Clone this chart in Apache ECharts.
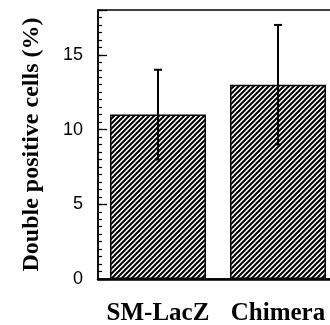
<!DOCTYPE html>
<html>
<head>
<meta charset="utf-8">
<script src="https://cdn.jsdelivr.net/npm/echarts@6/dist/echarts.min.js"></script>
<style>
  html, body { margin: 0; padding: 0; background: #fff; }
  #chart { width: 330px; height: 325px; }
</style>
</head>
<body>
<div id="chart"></div>
<script>
// data
const categories = ['SM-LacZ', 'Chimera'];
const means = [11, 13];
const errLow = [8, 9];
const errHigh = [14, 17];
const yTicks = [0, 5, 10, 15];

// diagonal hatch fill
const makeHatch = () => {
  const size = 5;
  const c = document.createElement('canvas');
  c.width = size;
  c.height = size;
  const ctx = c.getContext('2d');
  ctx.fillStyle = '#fff';
  ctx.fillRect(0, 0, size, size);
  ctx.strokeStyle = '#000';
  ctx.lineWidth = 2;
  ctx.beginPath();
  ctx.moveTo(-1, size + 1); ctx.lineTo(size + 1, -1);
  ctx.moveTo(-1, 1); ctx.lineTo(1, -1);
  ctx.moveTo(size - 1, size + 1); ctx.lineTo(size + 1, size - 1);
  ctx.stroke();
  return c;
};

const myChart = echarts.init(document.getElementById('chart'), null, { renderer: 'canvas' });

const option = {
  animation: false,
  grid: {
    // plot runs past the right edge of the picture (cropped figure)
    left: 98, right: -8, top: 10, bottom: 46,
    outerBoundsMode: 'none',
    containLabel: false,
    show: true, borderColor: '#000', borderWidth: 1.5, backgroundColor: 'transparent'
  },
  xAxis: {
    type: 'category',
    data: categories,
    axisLine: { lineStyle: { color: '#000', width: 2.5 } },
    axisTick: { inside: true, length: 5, lineStyle: { color: '#000', width: 1.2 } },
    axisLabel: {
      interval: 0,
      margin: 22,
      color: '#000',
      fontFamily: 'Liberation Serif',
      fontWeight: 'bold',
      fontSize: 25
    }
  },
  yAxis: [
    {
      type: 'value',
      min: 0, max: 18, interval: 5,
      name: 'Double positive cells (%)',
      nameLocation: 'middle',
      nameGap: 54,
      nameTextStyle: {
        color: '#000', fontFamily: 'Liberation Serif', fontWeight: 'bold', fontSize: 24
      },
      axisLine: { show: true, lineStyle: { color: '#000', width: 1.5 } },
      axisTick: { show: true, inside: true, length: 9, lineStyle: { color: '#000', width: 1.3 } },
      axisLabel: {
        margin: 15,
        color: '#000',
        fontFamily: 'Liberation Sans',
        fontSize: 18,
        formatter: v => (yTicks.includes(v) ? String(v) : '')
      },
      splitLine: { show: false }
    },
    {
      type: 'value',
      position: 'left',
      offset: 0,
      min: 0, max: 18, interval: 0.5,
      axisLine: { show: false },
      axisTick: { show: true, inside: true, length: 4, lineStyle: { color: '#000', width: 1.2 } },
      axisLabel: { show: false },
      splitLine: { show: false }
    }
  ],
  series: [
    {
      type: 'bar',
      data: means,
      barWidth: '80%',
      itemStyle: {
        color: { image: makeHatch(), repeat: 'repeat' },
        borderColor: '#000',
        borderWidth: 1.5
      }
    },
    {
      type: 'custom',
      data: categories.map((c, i) => [i, errLow[i], errHigh[i]]),
      renderItem: (params, api) => {
        const x = api.value(0);
        const lo = api.coord([x, api.value(1)]);
        const hi = api.coord([x, api.value(2)]);
        const cap = 4;
        const style = { stroke: '#000', lineWidth: 2 };
        return {
          type: 'group',
          children: [
            { type: 'line', shape: { x1: hi[0], y1: hi[1], x2: lo[0], y2: lo[1] }, style },
            { type: 'line', shape: { x1: hi[0] - cap, y1: hi[1], x2: hi[0] + cap, y2: hi[1] }, style },
            { type: 'line', shape: { x1: lo[0] - 3, y1: lo[1], x2: lo[0] + 3, y2: lo[1] }, style }
          ]
        };
      },
      z: 5
    }
  ]
};

myChart.setOption(option);
</script>
</body>
</html>
